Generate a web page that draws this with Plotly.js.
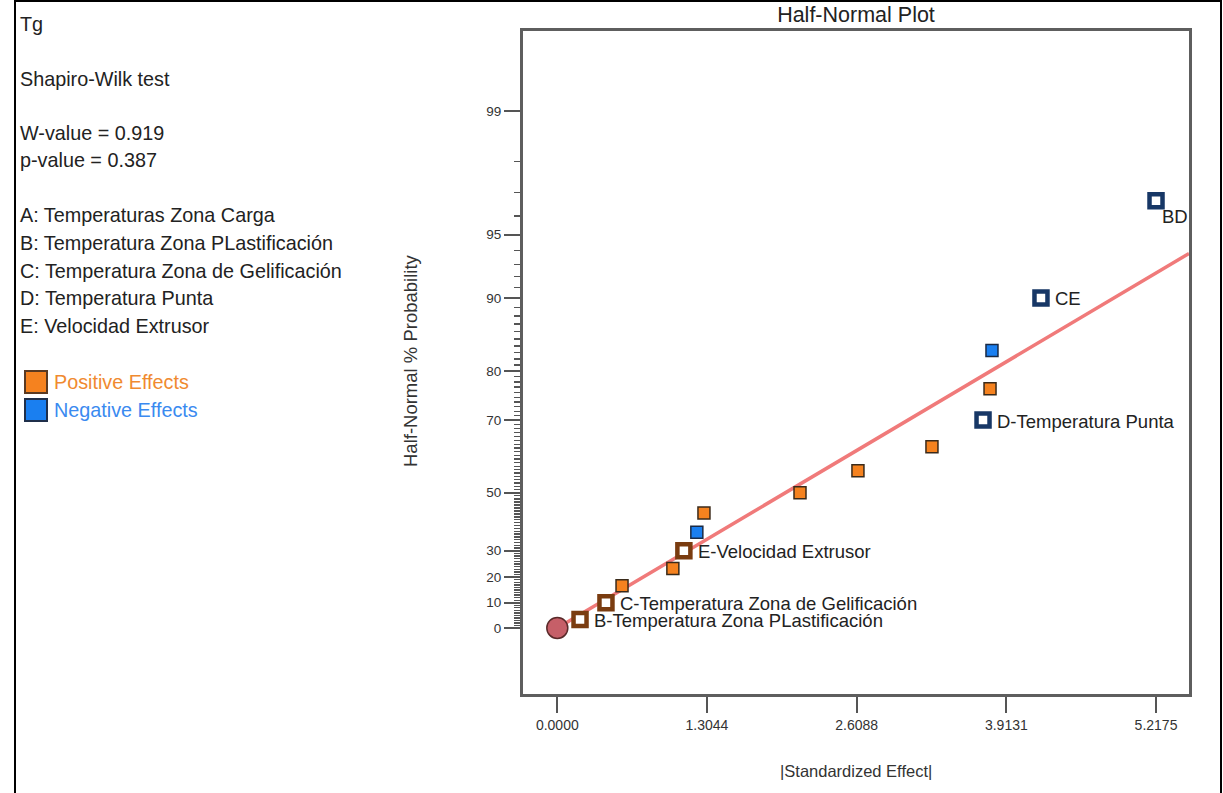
<!DOCTYPE html>
<html>
<head>
<meta charset="utf-8">
<script src="https://cdn.plot.ly/plotly-3.0.1.min.js"></script>
<style>html,body{margin:0;padding:0;background:#fff;}#chart{width:1223px;height:793px;}</style>
</head>
<body>
<div id="chart"></div>
<script>
// ---- data ----
const effects = [0.198, 0.424, 0.564, 1.007, 1.103, 1.216, 1.278, 2.115, 2.620, 3.265, 3.710, 3.771, 3.788, 4.215, 5.2175];
const probs   = [3.33, 10, 16.67, 23.33, 30, 36.67, 43.33, 50, 56.67, 63.33, 70, 76.67, 83.33, 90, 96.67];
const signs   = ['+','+','+','+','+','-','+','+','+','+','-','+','-','-','-'];
const labels  = ['B-Temperatura Zona PLastificación','C-Temperatura Zona de Gelificación','','','E-Velocidad Extrusor','','','','','','D-Temperatura Punta','','','CE','BD'];
const errEffect = [0];
const errProb = [0];
const fitEffect = [0, 5.505];
const fitProb = [0, 93.8];
const xTickVals = [0.0000, 1.3044, 2.6088, 3.9131, 5.2175];
const yTickProbs = [0, 10, 20, 30, 50, 70, 80, 90, 95, 99];
const infoLines = ['Tg', 'Shapiro-Wilk test', 'W-value = 0.919', 'p-value = 0.387',
  'A: Temperaturas Zona Carga', 'B: Temperatura Zona PLastificación', 'C: Temperatura Zona de Gelificación',
  'D: Temperatura Punta', 'E: Velocidad Extrusor'];
const legendNames = ['Positive Effects', 'Negative Effects'];

// ---- half-normal probability scale ----
function invNorm(p){
  const a=[-3.969683028665376e+01,2.209460984245205e+02,-2.759285104469687e+02,1.383577518672690e+02,-3.066479806614716e+01,2.506628277459239e+00];
  const b=[-5.447609879822406e+01,1.615858368580409e+02,-1.556989798598866e+02,6.680131188771972e+01,-1.328068155288572e+01];
  const c=[-7.784894002430293e-03,-3.223964580411365e-01,-2.400758277161838e+00,-2.549732539343734e+00,4.374664141464968e+00,2.938163982698783e+00];
  const d=[7.784695709041462e-03,3.224671290700398e-01,2.445134137142996e+00,3.754408661907416e+00];
  const pl=0.02425, ph=1-pl; let q,r;
  if(p<pl){q=Math.sqrt(-2*Math.log(p));return (((((c[0]*q+c[1])*q+c[2])*q+c[3])*q+c[4])*q+c[5])/((((d[0]*q+d[1])*q+d[2])*q+d[3])*q+1);}
  if(p<=ph){q=p-0.5;r=q*q;return (((((a[0]*r+a[1])*r+a[2])*r+a[3])*r+a[4])*r+a[5])*q/(((((b[0]*r+b[1])*r+b[2])*r+b[3])*r+b[4])*r+1);}
  q=Math.sqrt(-2*Math.log(1-p));return -(((((c[0]*q+c[1])*q+c[2])*q+c[3])*q+c[4])*q+c[5])/((((d[0]*q+d[1])*q+d[2])*q+d[3])*q+1);
}
const hn = pct => invNorm((1 + pct/100)/2);

// ---- layout geometry ----
const W=1223, H=793, L=523, R=1189, T=31, B=694;
const px = x => (x-L)/(R-L);
const py = y => (B-y)/(B-T);

const font = 'Arial, "Liberation Sans", sans-serif';
const ORANGE='#f5821f', BLUE='#1a7ff0', BROWN='#7a3c10', NAVY='#173766';

const idx = (f) => effects.map((_,i)=>i).filter(f);
const lab = i => labels[i] !== '';
function sub(arr, ids){ return ids.map(i=>arr[i]); }

const posPlain = idx(i=>signs[i]==='+' && !lab(i));
const negPlain = idx(i=>signs[i]==='-' && !lab(i));
const posLab = idx(i=>signs[i]==='+' && lab(i));
const negLab = idx(i=>signs[i]==='-' && lab(i));

const traces = [
  {x: fitEffect, y: fitProb.map(hn), mode:'lines', line:{color:'#f07a7a', width:3.5}, hoverinfo:'skip'},
  {x: errEffect, y: errProb.map(hn), mode:'markers', marker:{symbol:'circle', size:21, color:'#c65f68', line:{color:'#5a2a2a', width:1.5}}},
  {x: sub(effects,posPlain), y: sub(probs,posPlain).map(hn), mode:'markers', marker:{symbol:'square', size:12, color:ORANGE, line:{color:'#3a2a1a', width:1.5}}},
  {x: sub(effects,negPlain), y: sub(probs,negPlain).map(hn), mode:'markers', marker:{symbol:'square', size:12, color:BLUE, line:{color:'#1a2a44', width:1.5}}},
  {x: sub(effects,posLab), y: sub(probs,posLab).map(hn), mode:'markers', marker:{symbol:'square', size:13, color:'#ffffff', line:{color:BROWN, width:4.5}}},
  {x: sub(effects,negLab), y: sub(probs,negLab).map(hn), mode:'markers', marker:{symbol:'square', size:13, color:'#ffffff', line:{color:NAVY, width:4.5}}}
];

const annotations = [];
// point labels
effects.forEach((e,i)=>{
  if(!lab(i)) return;
  const isBD = labels[i]==='BD';
  annotations.push({x:e, y:hn(probs[i]), xref:'x', yref:'y', text:labels[i], showarrow:false,
    xanchor:'left', yanchor:'middle', xshift: isBD?4:12, yshift: isBD?-16:-1,
    font:{family:font, size:18.5, color:'#222'}});
});
// info panel
const infoY = [24, 79, 133, 160, 215, 243, 271, 298, 326];
infoLines.forEach((t,i)=>{
  annotations.push({x:px(18), y:py(infoY[i]), xref:'paper', yref:'paper', text:t, showarrow:false,
    xanchor:'left', yanchor:'middle', font:{family:font, size:19.8, color:'#222'}});
});
const legY=[382, 410], legCol=[ORANGE, BLUE], legTxt=['#f08a30','#3a8af0'], legLine=['#5a3a22','#1f2f4a'];
const shapes = [];
legendNames.forEach((t,i)=>{
  annotations.push({x:px(52), y:py(legY[i]), xref:'paper', yref:'paper', text:t, showarrow:false,
    xanchor:'left', yanchor:'middle', font:{family:font, size:19.8, color:legTxt[i]}});
  shapes.push({type:'rect', xref:'paper', yref:'paper', x0:px(25), x1:px(47), y0:py(legY[i]+11), y1:py(legY[i]-11),
    fillcolor:legCol[i], line:{color:legLine[i], width:2}});
});
// axis titles
annotations.push({x:0.5, y:py(771), xref:'paper', yref:'paper', text:'|Standardized Effect|', showarrow:false,
  xanchor:'center', yanchor:'middle', font:{family:font, size:16.5, color:'#333'}});
annotations.push({x:px(410), y:py(361), xref:'paper', yref:'paper', text:'Half-Normal % Probability', showarrow:false,
  textangle:-90, xanchor:'center', yanchor:'middle', font:{family:font, size:18.5, color:'#333'}});
// outer frame
shapes.push({type:'rect', xref:'paper', yref:'paper', x0:px(15), x1:px(1221), y0:py(820), y1:py(1), line:{color:'#000', width:2}, fillcolor:'rgba(0,0,0,0)', layer:'below'});

const minorVals = [];
for(let p=1;p<=98;p++){ if(!yTickProbs.includes(p)) minorVals.push(hn(p)); }

const layout = {
  width:W, height:H, showlegend:false,
  margin:{l:L, r:W-R, t:T, b:H-B, pad:0},
  paper_bgcolor:'#fff', plot_bgcolor:'#fff',
  title:{text:'Half-Normal Plot', x:0.5, xref:'paper', y:1-14/H, yref:'container', xanchor:'center', yanchor:'middle',
    font:{family:font, size:21.5, color:'#222'}},
  xaxis:{range:[-0.299, 5.505], tickmode:'array', tickvals:xTickVals, ticktext:xTickVals.map(v=>v.toFixed(4)),
    ticks:'outside', ticklen:16, tickwidth:2, tickcolor:'#555', showgrid:false, zeroline:false,
    showline:true, linecolor:'#5e5e5e', linewidth:3, mirror:true,
    tickfont:{family:font, size:14, color:'#333'}},
  yaxis:{range:[-0.329, 2.975], tickmode:'array', tickvals:yTickProbs.map(hn), ticktext:yTickProbs.map(String),
    ticks:'outside', ticklen:16, tickwidth:2, tickcolor:'#555', showgrid:false, zeroline:false,
    showline:true, linecolor:'#5e5e5e', linewidth:3, mirror:true,
    tickfont:{family:font, size:13.5, color:'#333'},
    minor:{tickmode:'array', tickvals:minorVals, ticks:'outside', ticklen:6, tickwidth:1.3, tickcolor:'#555', showgrid:false}},
  annotations, shapes
};

Plotly.newPlot('chart', traces, layout, {displayModeBar:false, staticPlot:true});
</script>
</body>
</html>
